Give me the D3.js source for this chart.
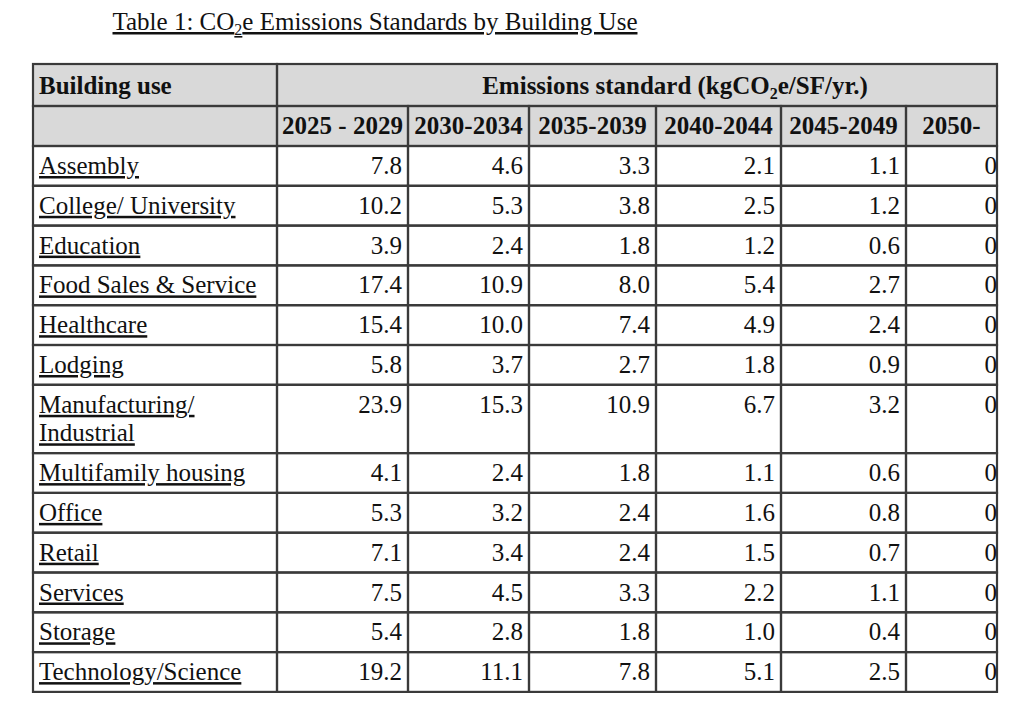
<!DOCTYPE html>
<html>
<head>
  <meta charset="utf-8">
  <script src="https://d3js.org/d3.v7.min.js"></script>
  <style>
    body { margin: 0; background: #fff; }
    svg text { font-family: "Liberation Serif", "Times New Roman", serif; fill: #111; }
  </style>
</head>
<body>
<script>
  // table contents
  var periods = ["2025 - 2029", "2030-2034", "2035-2039", "2040-2044", "2045-2049", "2050-"];
  var buildingUses = ["Assembly", "College/ University", "Education", "Food Sales & Service",
    "Healthcare", "Lodging", "Manufacturing/ Industrial", "Multifamily housing", "Office",
    "Retail", "Services", "Storage", "Technology/Science"];
  var v2025 = [7.8, 10.2, 3.9, 17.4, 15.4, 5.8, 23.9, 4.1, 5.3, 7.1, 7.5, 5.4, 19.2];
  var v2030 = [4.6, 5.3, 2.4, 10.9, 10.0, 3.7, 15.3, 2.4, 3.2, 3.4, 4.5, 2.8, 11.1];
  var v2035 = [3.3, 3.8, 1.8, 8.0, 7.4, 2.7, 10.9, 1.8, 2.4, 2.4, 3.3, 1.8, 7.8];
  var v2040 = [2.1, 2.5, 1.2, 5.4, 4.9, 1.8, 6.7, 1.1, 1.6, 1.5, 2.2, 1.0, 5.1];
  var v2045 = [1.1, 1.2, 0.6, 2.7, 2.4, 0.9, 3.2, 0.6, 0.8, 0.7, 1.1, 0.4, 2.5];
  var v2050 = [0, 0, 0, 0, 0, 0, 0, 0, 0, 0, 0, 0, 0];
  var columns = [v2025, v2030, v2035, v2040, v2045, v2050];

  var W = 1024, H = 720;
  var tLeft = 33, tTop = 64;
  var labelW = 244;
  var colW = [131, 121, 127, 125, 125, 91];
  var head1H = 42, head2H = 40, rowH = 39.8, lineH = 28.5;
  var fs = 25;
  var stroke = "#3a3a3a";

  var svg = d3.select("body").append("svg")
      .attr("width", W).attr("height", H);

  // title
  var title = svg.append("text")
      .attr("x", 375).attr("y", 30)
      .attr("text-anchor", "middle")
      .style("font-size", fs + "px")
      .style("text-decoration", "underline");
  title.append("tspan").text("Table 1: CO");
  title.append("tspan").attr("dy", 5).style("font-size", "16px").text("2");
  title.append("tspan").attr("dy", -5).text("e Emissions Standards by Building Use");

  // column edges
  var edges = [tLeft, tLeft + labelW].concat(Array.from(d3.cumsum(colW), function(d) { return tLeft + labelW + d; }));
  var x = d3.scaleOrdinal().domain(periods).range(edges.slice(1, -1));
  var xRight = edges[edges.length - 1];

  // wrap labels to see how many lines each row needs
  var measure = svg.append("text").style("font-size", fs + "px");
  var wrapped = buildingUses.map(function(name) {
    var words = name.split(" "), lines = [], cur = "";
    words.forEach(function(w) {
      var t = cur ? cur + " " + w : w;
      measure.text(t);
      if (cur && measure.node().getComputedTextLength() > labelW - 12) {
        lines.push(cur); cur = w;
      } else cur = t;
    });
    lines.push(cur);
    return lines;
  });
  measure.remove();

  var heights = wrapped.map(function(l) { return rowH + (l.length - 1) * lineH; });
  var bodyTop = tTop + head1H + head2H;
  var rowTops = [bodyTop].concat(Array.from(d3.cumsum(heights), function(d) { return bodyTop + d; }));
  var y = d3.scaleOrdinal().domain(buildingUses).range(rowTops.slice(0, -1));

  // header cells
  svg.append("rect").attr("x", tLeft).attr("y", tTop)
      .attr("width", xRight - tLeft).attr("height", head1H + head2H)
      .attr("fill", "#d9d9d9");

  function cell(x0, y0, w, h) {
    svg.append("rect").attr("x", x0).attr("y", y0).attr("width", w).attr("height", h)
        .attr("fill", "none").attr("stroke", stroke).attr("stroke-width", 2.2);
  }
  cell(tLeft, tTop, labelW, head1H);
  cell(tLeft + labelW, tTop, xRight - tLeft - labelW, head1H);
  cell(tLeft, tTop + head1H, labelW, head2H);
  periods.forEach(function(p, i) { cell(x(p), tTop + head1H, colW[i], head2H); });

  svg.append("text").attr("x", tLeft + 6).attr("y", tTop + 30)
      .style("font-size", fs + "px").style("font-weight", "bold").text("Building use");

  var sub = svg.append("text").attr("x", (tLeft + labelW + xRight) / 2 + 38).attr("y", tTop + 30)
      .attr("text-anchor", "middle").style("font-size", fs + "px").style("font-weight", "bold");
  sub.append("tspan").text("Emissions standard (kgCO");
  sub.append("tspan").attr("dy", 5).style("font-size", "16px").text("2");
  sub.append("tspan").attr("dy", -5).text("e/SF/yr.)");

  svg.selectAll("text.period").data(periods).enter().append("text")
      .attr("class", "period")
      .attr("x", function(d, i) { return x(d) + colW[i] / 2; })
      .attr("y", tTop + head1H + 28)
      .attr("text-anchor", "middle")
      .style("font-size", fs + "px").style("font-weight", "bold")
      .text(function(d) { return d; });

  // body
  buildingUses.forEach(function(b, r) {
    var y0 = y(b), h = heights[r];
    cell(tLeft, y0, labelW, h);
    var t = svg.append("text").attr("x", tLeft + 6).attr("y", y0 + 28)
        .style("font-size", fs + "px").style("text-decoration", "underline");
    wrapped[r].forEach(function(line, k) {
      t.append("tspan").attr("x", tLeft + 6).attr("dy", k ? lineH : 0).text(line);
    });
    periods.forEach(function(p, c) {
      cell(x(p), y0, colW[c], h);
      var last = c === periods.length - 1;
      svg.append("text")
          .attr("x", x(p) + colW[c] - (last ? 0 : 6))
          .attr("y", y0 + 28)
          .attr("text-anchor", "end")
          .style("font-size", fs + "px")
          .text(last ? String(columns[c][r]) : d3.format(".1f")(columns[c][r]));
    });
  });
</script>
</body>
</html>
